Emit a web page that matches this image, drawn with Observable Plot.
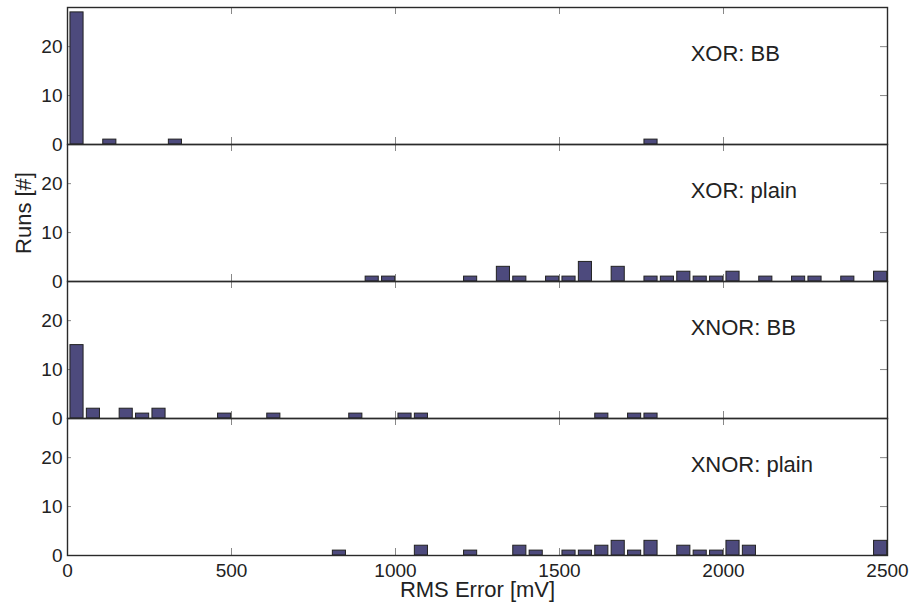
<!DOCTYPE html>
<html><head><meta charset="utf-8">
<script src="https://cdn.jsdelivr.net/npm/d3@7"></script>
<script src="https://cdn.jsdelivr.net/npm/@observablehq/plot@0.6"></script>
<style>
body{margin:0;background:#fff}
</style>
</head><body><div id="chart"></div>
<script>
// Panels (top to bottom)
const panels = ["XOR: BB", "XOR: plain", "XNOR: BB", "XNOR: plain"];

// Histogram bins: bin centers (mV) and run counts, per panel
const xorBBCenters = [29, 129, 329, 1779];
const xorBBCounts  = [27, 1, 1, 1];

const xorPlainCenters = [929, 979, 1229, 1329, 1379, 1479, 1529, 1579, 1679, 1779, 1829, 1879, 1929, 1979, 2029, 2129, 2229, 2279, 2379, 2479];
const xorPlainCounts  = [1, 1, 1, 3, 1, 1, 1, 4, 3, 1, 1, 2, 1, 1, 2, 1, 1, 1, 1, 2];

const xnorBBCenters = [29, 79, 179, 229, 279, 479, 629, 879, 1029, 1079, 1629, 1729, 1779];
const xnorBBCounts  = [15, 2, 2, 1, 2, 1, 1, 1, 1, 1, 1, 1, 1];

const xnorPlainCenters = [829, 1079, 1229, 1379, 1429, 1529, 1579, 1629, 1679, 1729, 1779, 1879, 1929, 1979, 2029, 2079, 2479];
const xnorPlainCounts  = [1, 2, 1, 2, 1, 1, 1, 2, 3, 1, 3, 2, 1, 1, 3, 2, 3];

// Axis ticks and labels
const xTicks = [0, 500, 1000, 1500, 2000, 2500];
const yTicks = [0, 10, 20];
const xLabel = "RMS Error [mV]";
const yLabel = "Runs [#]";

const binWidth = 50;      // mV
const barFraction = 0.8;  // bar width relative to bin

const series = [
  [xorBBCenters, xorBBCounts],
  [xorPlainCenters, xorPlainCounts],
  [xnorBBCenters, xnorBBCounts],
  [xnorPlainCenters, xnorPlainCounts]
];
const data = [];
series.forEach(([c, n], i) => c.forEach((x, j) => data.push({panel: panels[i], x, count: n[j]})));

const W = 911, H = 608, mt = 7, mb = 53, ml = 67, mr = 24;
const innerW = W - ml - mr;
const panelH = (H - mt - mb) / panels.length;
const tickLen = 7;
const half = binWidth * barFraction / 2;

const chart = Plot.plot({
  width: W, height: H,
  marginTop: mt, marginBottom: mb, marginLeft: ml, marginRight: mr,
  style: {fontFamily: "'Liberation Sans', Arial, Helvetica, sans-serif", fontSize: "19px", color: "#222", background: "#fff"},
  x: {domain: [0, 2500], label: null},
  y: {domain: [0, 28], label: null},
  fy: {domain: panels, padding: 0, axis: null, label: null},
  marks: [
    // inward tick marks on every panel
    Plot.ruleX(xTicks, {x: d => d, insetBottom: panelH - tickLen, stroke: "#888", strokeWidth: 1}),
    Plot.ruleX(xTicks, {x: d => d, insetTop: panelH - tickLen, stroke: "#888", strokeWidth: 1}),
    Plot.ruleY(yTicks, {y: d => d, insetRight: innerW - 4, stroke: "#888", strokeWidth: 1}),
    Plot.ruleY(yTicks, {y: d => d, insetLeft: innerW - tickLen, stroke: "#888", strokeWidth: 1}),
    Plot.rectY(data, {
      x1: d => d.x - half, x2: d => d.x + half, y: "count", fy: "panel",
      fill: "#4d4a7d", stroke: "#222", strokeWidth: 1
    }),
    Plot.frame({stroke: "#2a2a2a", strokeWidth: 1.4}),
    Plot.axisY({ticks: yTicks, tickSize: 0, tickPadding: 5, label: null}),
    Plot.axisX({ticks: xTicks, tickSize: 0, tickPadding: 8, label: null, tickFormat: d => String(d)}),
    Plot.text(panels, {fy: d => d, text: d => d, x: 1900, y: 18.6, textAnchor: "start", fontSize: 22}),
    Plot.text([yLabel], {fy: () => panels[1], text: d => d, frameAnchor: "left", textAnchor: "middle", lineAnchor: "middle", dx: -44, rotate: -90, fontSize: 22}),
    Plot.text([xLabel], {fy: () => panels[3], text: d => d, frameAnchor: "bottom", textAnchor: "middle", lineAnchor: "top", dy: 26, fontSize: 22})
  ]
});
document.getElementById("chart").appendChild(chart);
</script>
</body></html>
